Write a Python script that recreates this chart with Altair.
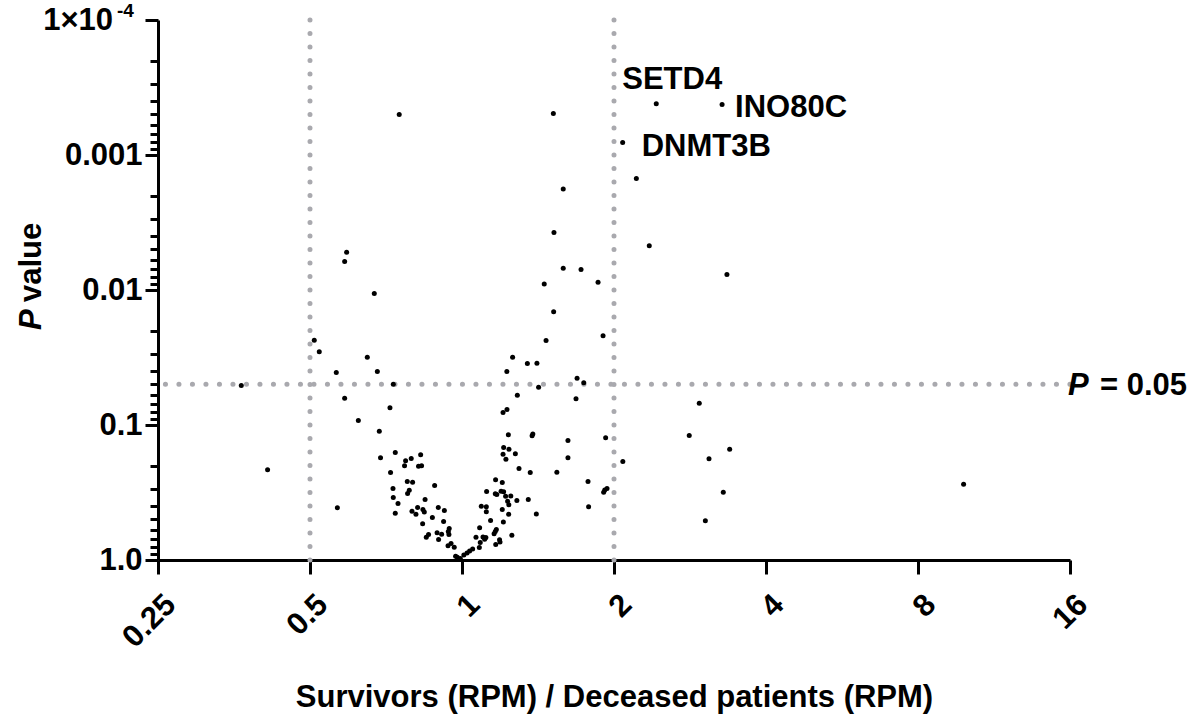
import numpy as np
import pandas as pd
import altair as alt

# log2(survivors RPM / deceased RPM) for each transcript
log2_ratio = [
    1.278, 1.711, 1.057, -0.413, 0.601, 1.147, 0.666, 1.232, 0.605, -0.759,
    -0.772, 0.666, 0.783, 0.541, 0.895, -0.577, 1.743, 0.603, -0.972, -0.939,
    0.928, 0.553, -0.623, 0.333, 0.430, 0.493, -0.827, -0.557, 0.295, 0.757,
    0.801, -0.452, -1.452, 0.504, 0.364, 0.750, -0.772, 1.561, -0.474, 0.296,
    0.270, -0.682, -0.544, 0.305, 0.461, 0.466, 1.495, 0.945, 0.697, 0.274,
    0.309, 1.761, -0.439, 0.270, 0.351, -0.272, -0.536, 0.697, -0.334, 1.625,
    0.289, -0.371, 1.058, -0.378, -0.286, -0.266, 0.375, -1.279, -0.470, 0.449,
    0.624, 0.221, -0.360, -0.325, 0.829, 0.265, 3.300, -0.180, -0.454, 0.954,
    0.939, 0.932, -0.347, 0.162, 0.257, 0.274, 1.719, -0.358, 0.219, 0.229,
    0.287, 0.321, -0.452, -0.243, 0.436, 0.361, 0.300, -0.421, 0.308, 0.127,
    0.160, 0.833, -0.820, -0.292, -0.156, -0.257, 0.265, -0.116, -0.329, -0.248,
    0.160, -0.439, -0.303, 0.307, 0.489, -0.195, 0.188, 1.601, -0.121, 0.272,
    -0.259, 0.116, -0.084, 0.226, -0.090, 0.219, -0.164, -0.134, 0.211, -0.220,
    -0.086, 0.328, -0.235, 0.092, 0.138, 0.157, 0.149, -0.154, 0.247, 0.120,
    0.250, -0.072, 0.222, -0.092, -0.051, 0.114, 0.070, 0.050, 0.033, 0.012,
    -0.042, -0.031, -0.011,
]

# -log10(P) for the same transcripts
neg_log10_p = [
    3.379, 3.374, 3.093, 3.300, 3.307, 2.826, 2.748, 2.327, 2.426, 2.280,
    2.211, 2.161, 2.152, 2.044, 2.058, 1.974, 2.115, 1.839, 1.628, 1.542,
    1.661, 1.626, 1.502, 1.502, 1.456, 1.458, 1.389, 1.396, 1.396, 1.347,
    1.313, 1.302, 1.293, 1.280, 1.221, 1.194, 1.199, 1.161, 1.127, 1.115,
    1.093, 1.033, 0.954, 0.927, 0.920, 0.933, 0.922, 0.905, 0.885, 0.833,
    0.821, 0.821, 0.796, 0.784, 0.787, 0.779, 0.757, 0.757, 0.752, 0.750,
    0.747, 0.735, 0.730, 0.698, 0.695, 0.698, 0.678, 0.668, 0.648, 0.648,
    0.650, 0.594, 0.581, 0.576, 0.581, 0.574, 0.561, 0.552, 0.530, 0.530,
    0.519, 0.502, 0.517, 0.507, 0.510, 0.505, 0.502, 0.493, 0.490, 0.485,
    0.473, 0.474, 0.463, 0.448, 0.448, 0.441, 0.436, 0.419, 0.409, 0.399,
    0.394, 0.394, 0.387, 0.389, 0.389, 0.374, 0.374, 0.367, 0.361, 0.356,
    0.357, 0.347, 0.339, 0.339, 0.341, 0.315, 0.293, 0.290, 0.285, 0.281,
    0.268, 0.239, 0.233, 0.226, 0.211, 0.211, 0.201, 0.191, 0.194, 0.189,
    0.189, 0.184, 0.169, 0.169, 0.170, 0.167, 0.154, 0.152, 0.150, 0.130,
    0.133, 0.122, 0.115, 0.105, 0.095, 0.093, 0.081, 0.067, 0.052, 0.037,
    0.028, 0.021, 0.011,
]

# highlighted transcripts (first three entries above)
gene_names = ["SETD4", "INO80C", "DNMT3B"]
gene_log2_ratio = log2_ratio[:3]
gene_neg_log10_p = neg_log10_p[:3]

# thresholds
fold_cutoffs = [0.5, 2.0]
p_cutoff = 0.05

# axis ticks
x_ticks = [0.25, 0.5, 1, 2, 4, 8, 16]
y_ticks = [k * 10.0 ** e for e in range(-4, 0) for k in range(1, 10)] + [1.0]

points = pd.DataFrame({
    "ratio": 2.0 ** np.array(log2_ratio),
    "p": 10.0 ** -np.array(neg_log10_p),
})
genes = pd.DataFrame({
    "ratio": 2.0 ** np.array(gene_log2_ratio),
    "p": 10.0 ** -np.array(gene_neg_log10_p),
    "label": gene_names,
})

FONT = "Liberation Sans"
FS = 31
GUIDE_GREY = "#a9a9ae"

x_scale = alt.Scale(type="log", base=2, domain=[0.25, 16], nice=False)
y_scale = alt.Scale(type="log", domain=[1e-4, 1], reverse=True, nice=False)

is_decade = "abs(log(datum.value) / LN10 - round(log(datum.value) / LN10)) < 1e-6"

x_axis = alt.Axis(
    values=x_ticks,
    labelExpr="format(datum.value, '~g')",
    labelAngle=-45,
    labelAlign="right",
    labelBaseline="top",
    labelPadding=15,
    labelOffset=2,
    labelFont=FONT,
    labelFontSize=FS,
    labelFontWeight="bold",
    labelColor="black",
    labelOverlap=False,
    labelFlush=False,
    tickSize=14,
    tickWidth=3,
    tickColor="black",
    domainWidth=3,
    domainColor="black",
    grid=False,
    title="Survivors (RPM) / Deceased patients (RPM)",
    titleFont=FONT,
    titleFontSize=FS,
    titleFontWeight="bold",
    titleColor="black",
    titleBaseline="alphabetic",
    titleY=146,
)

y_axis = alt.Axis(
    values=y_ticks,
    labelExpr=(
        f"datum.value < 0.0005 ? '' : ({is_decade} ? "
        "(datum.value > 0.5 ? '1.0' : format(datum.value, '~g')) : '')"
    ),
    labelPadding=3,
    labelFont=FONT,
    labelFontSize=FS,
    labelFontWeight="bold",
    labelColor="black",
    labelOverlap=False,
    labelFlush=False,
    tickSize={"condition": {"test": is_decade, "value": 13}, "value": 8},
    tickWidth=3,
    tickColor="black",
    domainWidth=3,
    domainColor="black",
    grid=False,
    title=None,
)

# every layer shares the same scales and axis definitions
X = alt.X("ratio:Q", scale=x_scale, axis=x_axis)
Y = alt.Y("p:Q", scale=y_scale, axis=y_axis)

guide_style = dict(
    color=GUIDE_GREY, strokeWidth=5, strokeCap="round", strokeDash=[0.1, 13.4]
)

v_rules = alt.Chart(pd.DataFrame({"ratio": fold_cutoffs})).mark_rule(
    **guide_style
).encode(x=X)

h_rule = alt.Chart(pd.DataFrame({"p": [p_cutoff]})).mark_rule(
    **guide_style
).encode(y=Y)

dots = alt.Chart(points).mark_circle(size=25, color="black", opacity=1).encode(
    x=X, y=Y
)

text_base = dict(font=FONT, fontSize=FS, fontWeight="bold", color="black")

# gene names next to their points
label_offsets = {"SETD4": (-34, -15), "INO80C": (13, 12), "DNMT3B": (19, 14)}
gene_layers = []
for name, (ox, oy) in label_offsets.items():
    gene_layers.append(
        alt.Chart(genes[genes["label"] == name])
        .mark_text(align="left", baseline="alphabetic", dx=ox, dy=oy, **text_base)
        .encode(text="label:N", x=X, y=Y)
    )

# "P = 0.05" at the right end of the threshold line
p_anchor = pd.DataFrame({"ratio": [x_ticks[-1]], "p": [p_cutoff]})
p_italic = alt.Chart(p_anchor).mark_text(
    text="P", align="left", baseline="alphabetic", dx=-2, dy=11,
    fontStyle="italic", **text_base
).encode(x=X, y=Y)
p_value_txt = alt.Chart(p_anchor).mark_text(
    text=f"= {p_cutoff}", align="left", baseline="alphabetic", dx=30, dy=11,
    **text_base
).encode(x=X, y=Y)

# top y label written as a power of ten
top_anchor = pd.DataFrame({"ratio": [x_ticks[0]], "p": [y_ticks[0]]})
top_base = alt.Chart(top_anchor).mark_text(
    text="1×10", align="right", baseline="middle", dx=-45, dy=1, **text_base
).encode(x=X, y=Y)
top_exp = alt.Chart(top_anchor).mark_text(
    text="-4", align="left", baseline="middle", dx=-41, dy=-9,
    font=FONT, fontSize=19, fontWeight="bold", color="black"
).encode(x=X, y=Y)

# y axis title: italic P followed by "value", rotated
title_anchor = pd.DataFrame({"ratio": [x_ticks[0]], "p": [0.01]})
ytitle_p = alt.Chart(title_anchor).mark_text(
    text="P", angle=270, align="left", baseline="alphabetic", dx=-40, dy=-117,
    fontStyle="italic", **text_base
).encode(x=X, y=Y)
ytitle_rest = alt.Chart(title_anchor).mark_text(
    text="value", angle=270, align="left", baseline="alphabetic", dx=-12, dy=-117,
    **text_base
).encode(x=X, y=Y)

chart = alt.layer(
    v_rules, h_rule, dots, *gene_layers, p_italic, p_value_txt,
    top_base, top_exp, ytitle_p, ytitle_rest,
).properties(
    width=912,
    height=540,
    background="white",
    autosize=alt.AutoSizeParams(type="none"),
    padding={"left": 158, "top": 20, "right": 128, "bottom": 166},
).configure_view(stroke="transparent", strokeWidth=0)

chart.save("out.html", embed_options={"renderer": "svg", "actions": False})
